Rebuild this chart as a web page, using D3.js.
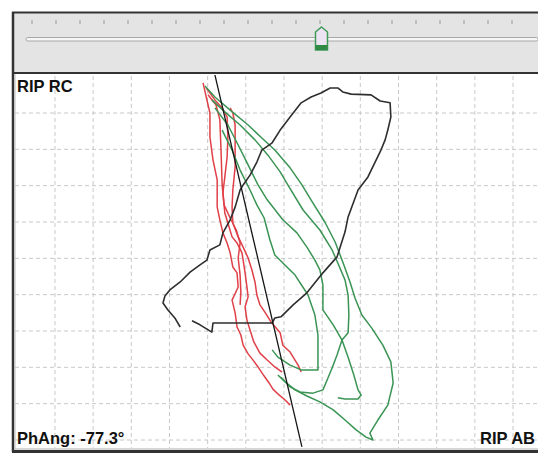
<!DOCTYPE html>
<html><head><meta charset="utf-8">
<script src="https://cdn.jsdelivr.net/npm/d3@7"></script>
<style>html,body{margin:0;padding:0;background:#fff;}svg{display:block;}</style>
</head><body>
<svg id="c" width="538" height="455"></svg>
<script>
// ---- data (grid units: x = RIP AB, y = RIP RC) ----
const phaseAngle = -77.3;
const xLabel = "RIP AB";
const yLabel = "RIP RC";
const sliderTicks = d3.range(0, 21);
const sliderValue = 12;
const gridX = d3.range(1, 14);
const gridY = d3.range(0, 10);

const phaseLine = [[5.19, 10.05], [7.47, -0.19]];

const blackLoop = [[4.59,3.28],[4.80,3.17],[5.11,2.97],[5.14,3.22],[6.69,3.22],[6.76,3.36],[6.92,3.39],[7.24,3.72],[7.60,4.05],[8.02,4.60],[8.39,5.04],[8.60,5.73],[8.68,6.14],[8.94,6.88],[9.20,7.24],[9.54,7.98],[9.65,8.26],[9.72,8.53],[9.80,8.89],[9.78,9.28],[9.52,9.33],[9.28,9.50],[8.76,9.52],[8.54,9.58],[8.41,9.69],[8.21,9.69],[7.97,9.55],[7.71,9.44],[7.45,9.28],[7.16,8.89],[6.90,8.53],[6.69,8.18],[6.42,7.98],[6.29,7.65],[6.11,7.29],[5.93,7.02],[5.85,6.88],[5.72,6.41],[5.59,6.06],[5.40,5.70],[5.32,5.37],[5.06,5.23],[4.98,4.95],[4.80,4.82],[4.54,4.62],[4.28,4.35],[4.01,4.13],[3.88,3.96],[3.83,3.77],[3.96,3.58],[4.14,3.36],[4.28,3.11]];

const red1 = [[4.88,9.83],[4.98,9.36],[5.06,9.00],[5.06,8.34],[5.14,7.71],[5.25,7.16],[5.25,6.41],[5.32,6.06],[5.40,5.70],[5.51,5.42],[5.59,5.15],[5.66,4.76],[5.77,4.60],[5.80,4.21],[5.64,3.85],[5.72,3.50],[5.77,3.11],[5.87,2.89],[5.93,2.61],[6.06,2.37],[6.21,2.17],[6.34,1.98],[6.48,1.76],[6.61,1.57],[6.71,1.40],[6.87,1.24],[7.03,1.10],[7.16,0.96]];
const red2 = [[4.96,9.69],[5.19,9.36],[5.38,9.14],[5.51,8.89],[5.53,8.34],[5.51,7.79],[5.45,7.24],[5.40,6.80],[5.45,6.25],[5.53,5.97],[5.64,5.59],[5.77,5.42],[5.90,5.15],[5.93,4.95],[5.98,4.60],[6.03,4.21],[6.06,3.94],[5.98,3.66],[6.03,3.30],[6.11,3.03],[6.21,2.70],[6.37,2.39],[6.56,2.20],[6.76,2.01],[6.95,1.87]];
const red3 = [[5.59,9.14],[5.66,9.00],[5.72,8.67],[5.72,8.07],[5.72,7.51],[5.66,6.88],[5.64,6.41],[5.66,5.97],[5.80,5.59],[5.93,5.31],[6.06,5.01],[6.16,4.68],[6.24,4.35],[6.29,3.99],[6.37,3.72],[6.50,3.52],[6.66,3.25],[6.90,2.95],[6.97,2.61],[7.16,2.42],[7.37,2.06],[7.45,1.87]];
const red4 = [[5.01,9.50],[5.22,9.22],[5.32,8.81],[5.35,7.98],[5.38,7.02],[5.43,6.47],[5.59,6.11],[5.75,5.78],[5.85,5.42],[5.80,5.01],[5.85,4.54],[5.87,4.07],[5.85,3.72]];

const greenA = [[5.11,9.36],[5.45,9.03],[5.85,8.67],[6.24,8.26],[6.58,7.84],[6.90,7.38],[7.10,7.02],[7.50,6.33],[7.94,5.78],[8.26,5.23],[8.41,4.87],[8.60,4.40],[8.68,3.99],[8.70,3.44],[8.68,2.95],[8.52,2.75],[8.39,2.34],[8.26,1.98],[8.13,1.65],[8.02,1.38],[7.76,1.29],[7.42,1.32],[7.16,1.46],[6.92,1.73]];
const greenB = [[5.19,9.14],[5.53,8.67],[5.80,8.12],[6.06,7.57],[6.32,7.02],[6.56,6.61],[6.97,6.06],[7.34,5.70],[7.60,5.31],[7.81,4.95],[7.94,4.68],[8.02,4.27],[8.02,3.58],[8.29,3.17],[8.52,2.75],[8.68,2.28],[8.83,1.79],[8.94,1.38],[9.02,1.24],[8.94,1.13],[8.60,1.13],[8.41,1.16]];
const greenC = [[4.93,9.74],[5.19,9.44],[5.59,9.08],[6.06,8.67],[6.42,8.31],[6.76,7.98],[7.16,7.49],[7.47,7.02],[7.76,6.52],[8.07,6.00],[8.34,5.45],[8.54,4.90],[8.73,4.35],[8.86,3.91],[9.04,3.44],[9.30,3.08],[9.59,2.61],[9.80,2.15],[9.86,1.57],[9.72,0.96],[9.46,0.55],[9.25,0.19],[9.33,0.00],[9.15,0.08],[8.89,0.28],[8.60,0.55],[8.29,0.83],[7.94,1.05],[7.60,1.21],[7.29,1.38],[7.03,1.60],[6.84,1.79]];
const greenD = [[5.38,8.53],[5.64,7.98],[5.85,7.43],[6.11,6.88],[6.29,6.47],[6.48,6.11],[6.63,5.51],[6.76,5.09],[7.29,4.54],[7.63,3.99],[7.81,3.44],[7.89,2.89],[7.89,1.93],[7.45,1.93],[7.16,2.06],[6.84,2.28],[6.69,2.48]];

const redSeries = [red1, red2, red3, red4];
const greenSeries = [greenA, greenB, greenC, greenD];

// ---- drawing ----
const svg = d3.select("#c");
const W = 538, H = 455;
const font = "'Liberation Sans', Arial, sans-serif";

// slider panel
svg.append("rect").attr("x", 12).attr("y", 12).attr("width", W - 12).attr("height", 61).attr("fill", "#e4e4e4");
// plot panel
svg.append("rect").attr("x", 14).attr("y", 74).attr("width", W - 14).attr("height", 375).attr("fill", "#ffffff");

const x = d3.scaleLinear().domain([0, 13]).range([16.8, 513]);
const y = d3.scaleLinear().domain([0, 9]).range([440, 113]);

svg.append("clipPath").attr("id", "plotclip").append("rect")
  .attr("x", 14).attr("y", 75).attr("width", W - 14).attr("height", 373);

const plot = svg.append("g").attr("clip-path", "url(#plotclip)");

// grid
const grid = plot.append("g").attr("stroke", "#c8c8c8").attr("stroke-width", 1).attr("stroke-dasharray", "4,3");
grid.selectAll("line.v").data(gridX).join("line").attr("class", "v")
  .attr("x1", d => x(d)).attr("x2", d => x(d)).attr("y1", 76).attr("y2", 448);
grid.selectAll("line.h").data(gridY).join("line").attr("class", "h")
  .attr("y1", d => y(d)).attr("y2", d => y(d)).attr("x1", 15).attr("x2", W);

const line = d3.line().x(d => x(d[0])).y(d => y(d[1]));

plot.selectAll("path.red").data(redSeries).join("path").attr("class", "red")
  .attr("d", line).attr("fill", "none").attr("stroke", "#e04048").attr("stroke-width", 1.5)
  .attr("stroke-linejoin", "round");
plot.selectAll("path.green").data(greenSeries).join("path").attr("class", "green")
  .attr("d", line).attr("fill", "none").attr("stroke", "#3a9454").attr("stroke-width", 1.5)
  .attr("stroke-linejoin", "round");
plot.append("path").datum(blackLoop).attr("d", line).attr("fill", "none")
  .attr("stroke", "#2e2e2e").attr("stroke-width", 1.6).attr("stroke-linejoin", "round");
plot.append("path").datum(phaseLine).attr("d", line).attr("fill", "none")
  .attr("stroke", "#151515").attr("stroke-width", 1.3);

// labels
const fs = 16.5;
svg.append("text").attr("x", 17).attr("y", 92).text(yLabel)
  .attr("font-family", font).attr("font-weight", "bold").attr("font-size", fs).attr("fill", "#111");
svg.append("text").attr("x", 17).attr("y", 444).text("PhAng: " + phaseAngle.toFixed(1) + "°")
  .attr("font-family", font).attr("font-weight", "bold").attr("font-size", fs).attr("fill", "#111");
svg.append("text").attr("x", 535).attr("y", 444).attr("text-anchor", "end").text(xLabel)
  .attr("font-family", font).attr("font-weight", "bold").attr("font-size", fs).attr("fill", "#111");

// frame lines
const frame = svg.append("g").attr("stroke", "#333");
frame.append("line").attr("x1", 12).attr("x2", W).attr("y1", 12.5).attr("y2", 12.5).attr("stroke-width", 2);
frame.append("line").attr("x1", 12).attr("x2", W).attr("y1", 73).attr("y2", 73).attr("stroke-width", 2);
frame.append("line").attr("x1", 13).attr("x2", 13).attr("y1", 12).attr("y2", 452).attr("stroke-width", 2.5);
frame.append("line").attr("x1", 12).attr("x2", W).attr("y1", 451.5).attr("y2", 451.5).attr("stroke-width", 3);
svg.append("line").attr("x1", 15).attr("x2", 15).attr("y1", 74).attr("y2", 450).attr("stroke", "#bdbdbd").attr("stroke-width", 1);
svg.append("line").attr("x1", 14).attr("x2", W).attr("y1", 449).attr("y2", 449).attr("stroke", "#c8c8c8").attr("stroke-width", 1.5);

// slider
const sx = d3.scaleLinear().domain([0, 20]).range([32, 512]);
svg.append("g").selectAll("line").data(sliderTicks).join("line")
  .attr("x1", d => sx(d)).attr("x2", d => sx(d)).attr("y1", 20).attr("y2", 24)
  .attr("stroke", "#9a9a9a").attr("stroke-width", 1);
svg.append("rect").attr("x", 26).attr("y", 37.5).attr("width", W - 26).attr("height", 3.5).attr("rx", 1.75)
  .attr("fill", "#f6f6f6").attr("stroke", "#a8a8a8").attr("stroke-width", 1);
const tx = sx(sliderValue) + 1.5;
const thumb = svg.append("g").attr("transform", `translate(${tx},0)`);
thumb.append("path").attr("d", "M0,27 L6,32 L6,50 L-6,50 L-6,32 Z")
  .attr("fill", "#ece4f2").attr("stroke", "#3f9a58").attr("stroke-width", 1.5);
thumb.append("rect").attr("x", -6).attr("y", 45).attr("width", 12).attr("height", 5).attr("fill", "#2f8a45");
</script>
</body></html>
